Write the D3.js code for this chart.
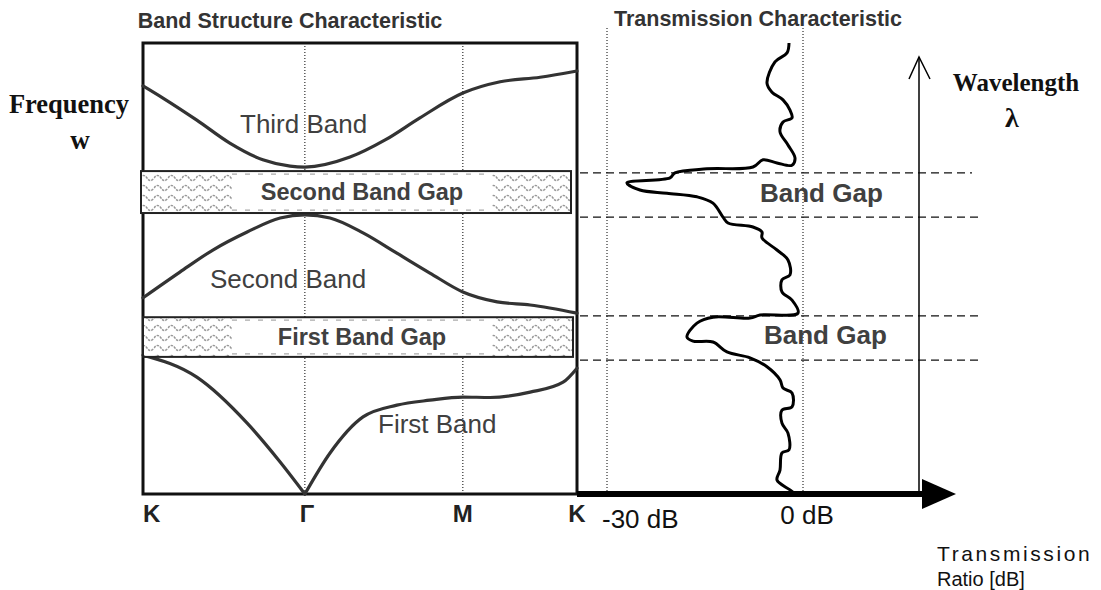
<!DOCTYPE html>
<html><head><meta charset="utf-8">
<script src="https://cdn.jsdelivr.net/npm/d3@7/dist/d3.min.js"></script>
<style>html,body{margin:0;padding:0;background:#fff}svg{display:block}</style>
</head><body>
<svg id="c" width="1101" height="590"></svg>
<script>
// ---------- DATA ----------
const kValues = [0, 3.73, 7.37, 10];
const kLabels = ["K", "Γ", "M", "K"];

// band structure: [k, frequency]
const thirdBand = [[0,90.5],[0.46,87.8],[1.24,82.9],[2.0,77.8],[2.76,74.1],[3.39,72.7],[3.73,72.5],[4.77,74.7],[5.58,78.5],[6.38,83.4],[7.37,88.9],[8.23,91.4],[9.15,92.4],[10,93.8]];
const secondBand = [[0,43.5],[0.85,49.2],[1.61,54.1],[2.4,58.1],[3.16,61.2],[3.73,61.9],[4.31,61.2],[5.07,57.9],[5.85,53.4],[6.61,49.0],[7.37,44.8],[8.16,42.6],[8.92,41.9],[10,40.1]];
const firstBandLeft = [[0,30.8],[1.24,25.9],[2.4,15.7],[3.16,7.1],[3.73,0]];
const firstBandRight = [[3.73,0],[4.31,9.1],[5.07,17.1],[5.85,19.7],[6.61,20.8],[7.37,21.5],[8.0,21.4],[8.92,22.6],[9.68,24.8],[10,27.9]];

// band gaps: [low freq, high freq]
const gapNames = ["First Band Gap", "Second Band Gap"];
const gapRanges = [[30.4, 39.2], [62.3, 71.6]];

const bandNames = ["First Band", "Second Band", "Third Band"];

// transmission: [dB, wavelength]
const transmission = [[-2.14,100],[-2.45,97.8],[-4.29,95.8],[-5.51,91.1],[-4.75,89.1],[-3.06,87.4],[-1.99,85.1],[-1.68,83.4],[-3.06,82.5],[-3.52,80.3],[-2.30,77.4],[-1.22,74.5],[-1.68,72.9],[-3.98,73.4],[-6.12,74.1],[-7.66,72.5],[-14.7,72.1],[-19.6,71.2],[-20.36,70.1],[-26.95,69.0],[-24.96,67.4],[-20.82,66.7],[-16.23,65.9],[-13.78,64.5],[-12.25,61.4],[-11.48,60.1],[-7.66,59.2],[-6.28,58.1],[-6.28,56.8],[-3.98,54.1],[-2.30,51.9],[-1.99,48.6],[-3.22,47.5],[-3.22,44.8],[-1.68,43.0],[-0.77,40.1],[-6.58,39.7],[-8.11,39.0],[-13.78,39.2],[-16.23,37.9],[-17.76,34.8],[-16.84,33.9],[-13.78,33.7],[-11.64,31.5],[-8.11,30.2],[-5.51,28.2],[-3.52,25.3],[-3.06,23.5],[-1.68,22.4],[-1.68,19.3],[-3.22,18.6],[-3.22,15.7],[-2.30,13.5],[-2.14,9.8],[-3.22,9.1],[-3.52,5.3],[-3.98,3.1],[-1.99,0.9],[-1.22,0]];
const dbTicks = [-30, 0];
const dbTickLabels = ["-30 dB", "0 dB"];
const gapEdgesLambda = [29.7, 39.5, 61.4, 71.2];

// ---------- LAYOUT ----------
const svg = d3.select("#c");
const SANS = "Liberation Sans, Arial, sans-serif";
const SERIF = "Liberation Serif, Times New Roman, serif";
const box = {x0:143, x1:577, y0:43, y1:494};

const x = d3.scaleLinear().domain([0,10]).range([box.x0, box.x1]);
const y = d3.scaleLinear().domain([0,100]).range([box.y1, box.y0]);
const xt = d3.scaleLinear().domain([-30,0]).range([607, 803]);
const yl = d3.scaleLinear().domain([0,100]).range([494, 43]);

svg.append("rect").attr("width",1101).attr("height",590).attr("fill","#fff");

// pattern
const defs = svg.append("defs");
const pat = defs.append("pattern").attr("id","wave").attr("patternUnits","userSpaceOnUse")
  .attr("width",14).attr("height",10).attr("x",0).attr("y",2);
pat.append("path").attr("d","M0,6 Q3.5,1 7,6 T14,6").attr("fill","none")
  .attr("stroke","#999").attr("stroke-width",1.5).attr("stroke-dasharray","2.5,1");

// dotted verticals in band box
svg.selectAll(".kdot").data(kValues.slice(1,3)).enter().append("line")
  .attr("x1",d=>x(d)).attr("x2",d=>x(d)).attr("y1",box.y0).attr("y2",box.y1)
  .attr("stroke","#000").attr("stroke-width",1).attr("stroke-dasharray","1,2");

// box
svg.append("rect").attr("x",box.x0).attr("y",box.y0).attr("width",box.x1-box.x0).attr("height",box.y1-box.y0)
  .attr("fill","none").attr("stroke","#111").attr("stroke-width",3);

// band curves
const line = d3.line().x(d=>x(d[0])).y(d=>y(d[1])).curve(d3.curveMonotoneX);
[thirdBand, secondBand, firstBandLeft, firstBandRight].forEach(b=>{
  svg.append("path").attr("d",line(b)).attr("fill","none").attr("stroke","#333")
    .attr("stroke-width",3.2).attr("stroke-linecap","round");
});

// band labels
const bandLabelPos = [[378,433],[210,288],[240,133]];
bandNames.forEach((n,i)=>{
  svg.append("text").attr("x",bandLabelPos[i][0]).attr("y",bandLabelPos[i][1]).text(n)
    .attr("font-family",SANS).attr("font-size",26).attr("fill","#404040");
});

// gap rectangles
const gapX = [[143,573],[141,571]];
const midX = [232, 492];
gapRanges.forEach((g,i)=>{
  const yt = y(g[1]), yb = y(g[0]);
  const gx0 = gapX[i][0], gx1 = gapX[i][1];
  svg.append("rect").attr("x",gx0).attr("y",yt).attr("width",gx1-gx0).attr("height",yb-yt).attr("fill","#fff");
  svg.append("rect").attr("x",gx0).attr("y",yt).attr("width",midX[0]-gx0).attr("height",yb-yt).attr("fill","url(#wave)");
  svg.append("rect").attr("x",midX[1]).attr("y",yt).attr("width",gx1-midX[1]).attr("height",yb-yt).attr("fill","url(#wave)");
  [yt+3, yb-3].forEach(yy=>{
    svg.append("line").attr("x1",midX[0]).attr("x2",midX[1]).attr("y1",yy).attr("y2",yy)
      .attr("stroke","#aaa").attr("stroke-width",1.3).attr("stroke-dasharray","5,8");
  });
  svg.append("rect").attr("x",gx0).attr("y",yt).attr("width",gx1-gx0).attr("height",yb-yt)
    .attr("fill","none").attr("stroke","#222").attr("stroke-width",2);
  svg.append("text").attr("x",362).attr("y",(yt+yb)/2+8).attr("text-anchor","middle")
    .text(gapNames[i]).attr("font-family",SANS).attr("font-weight","bold").attr("font-size",23.5).attr("fill","#404040");
});

// k labels
kLabels.forEach((l,i)=>{
  svg.append("text").attr("x", i===0 ? x(kValues[i]) : x(kValues[i]) + (i===1?2:0))
    .attr("y",522).attr("text-anchor", i===0 ? "start" : "middle").text(l)
    .attr("font-family",SANS).attr("font-weight","bold").attr("font-size",24).attr("fill","#222");
});

// titles
svg.append("text").attr("x",290).attr("y",28).attr("text-anchor","middle").text("Band Structure Characteristic")
  .attr("font-family",SANS).attr("font-weight","bold").attr("font-size",21.5).attr("fill","#333");
svg.append("text").attr("x",758).attr("y",26).attr("text-anchor","middle").text("Transmission Characteristic")
  .attr("font-family",SANS).attr("font-weight","bold").attr("font-size",21.5).attr("fill","#333");

svg.append("text").attr("x",69).attr("y",113).attr("text-anchor","middle").text("Frequency")
  .attr("font-family",SERIF).attr("font-weight","bold").attr("font-size",26.5).attr("fill","#111");
svg.append("text").attr("x",80).attr("y",149).attr("text-anchor","middle").text("w")
  .attr("font-family",SERIF).attr("font-weight","bold").attr("font-size",27).attr("fill","#111");

// transmission dotted guides
svg.selectAll(".tdot").data(dbTicks).enter().append("line")
  .attr("x1",d=>xt(d)).attr("x2",d=>xt(d)).attr("y1",28).attr("y2",494)
  .attr("stroke","#000").attr("stroke-width",1).attr("stroke-dasharray","1,2");

// dashed gap lines
const dashEnd = [982, 980, 983, 972];
gapEdgesLambda.forEach((l,i)=>{
  svg.append("line").attr("x1",580).attr("x2",dashEnd[i]).attr("y1",yl(l)).attr("y2",yl(l))
    .attr("stroke","#111").attr("stroke-width",1.3).attr("stroke-dasharray","8,5");
});
// Band Gap labels
[[764,344],[760,202]].forEach(p=>{
  svg.append("text").attr("x",p[0]).attr("y",p[1]).text("Band Gap")
    .attr("font-family",SANS).attr("font-weight","bold").attr("font-size",26).attr("fill","#404040");
});

// transmission curve
const tline = d3.line().x(d=>xt(d[0])).y(d=>yl(d[1])).curve(d3.curveCatmullRom.alpha(0.5));
svg.append("path").attr("d",tline(transmission)).attr("fill","none").attr("stroke","#000")
  .attr("stroke-width",3).attr("stroke-linejoin","round");

// wavelength axis
svg.append("line").attr("x1",919).attr("x2",919).attr("y1",57).attr("y2",494).attr("stroke","#000").attr("stroke-width",1.5);
svg.append("polyline").attr("points","909,79 919,57 930,79").attr("fill","none").attr("stroke","#000").attr("stroke-width",1.5);
svg.append("text").attr("x",1016).attr("y",91).attr("text-anchor","middle").text("Wavelength")
  .attr("font-family",SERIF).attr("font-weight","bold").attr("font-size",25).attr("fill","#111");
svg.append("text").attr("x",1012).attr("y",127).attr("text-anchor","middle").text("λ")
  .attr("font-family",SERIF).attr("font-weight","bold").attr("font-size",28).attr("fill","#111");

// transmission axis
svg.append("line").attr("x1",577).attr("x2",924).attr("y1",494).attr("y2",494).attr("stroke","#000").attr("stroke-width",6);
svg.append("polygon").attr("points","922,479 956,494 922,509").attr("fill","#000");

// dB labels
svg.append("text").attr("x",602).attr("y",528).text(dbTickLabels[0]).attr("font-family",SANS).attr("font-size",26).attr("fill","#111");
svg.append("text").attr("x",xt(0)+4).attr("y",524).attr("text-anchor","middle").text(dbTickLabels[1]).attr("font-family",SANS).attr("font-size",26).attr("fill","#111");

svg.append("text").attr("x",937).attr("y",561).text("Transmission").attr("font-family",SANS).attr("font-size",21).attr("letter-spacing",2.6).attr("fill","#111");
svg.append("text").attr("x",937).attr("y",586).text("Ratio [dB]").attr("font-family",SANS).attr("font-size",20).attr("fill","#111");
</script>
</body></html>
